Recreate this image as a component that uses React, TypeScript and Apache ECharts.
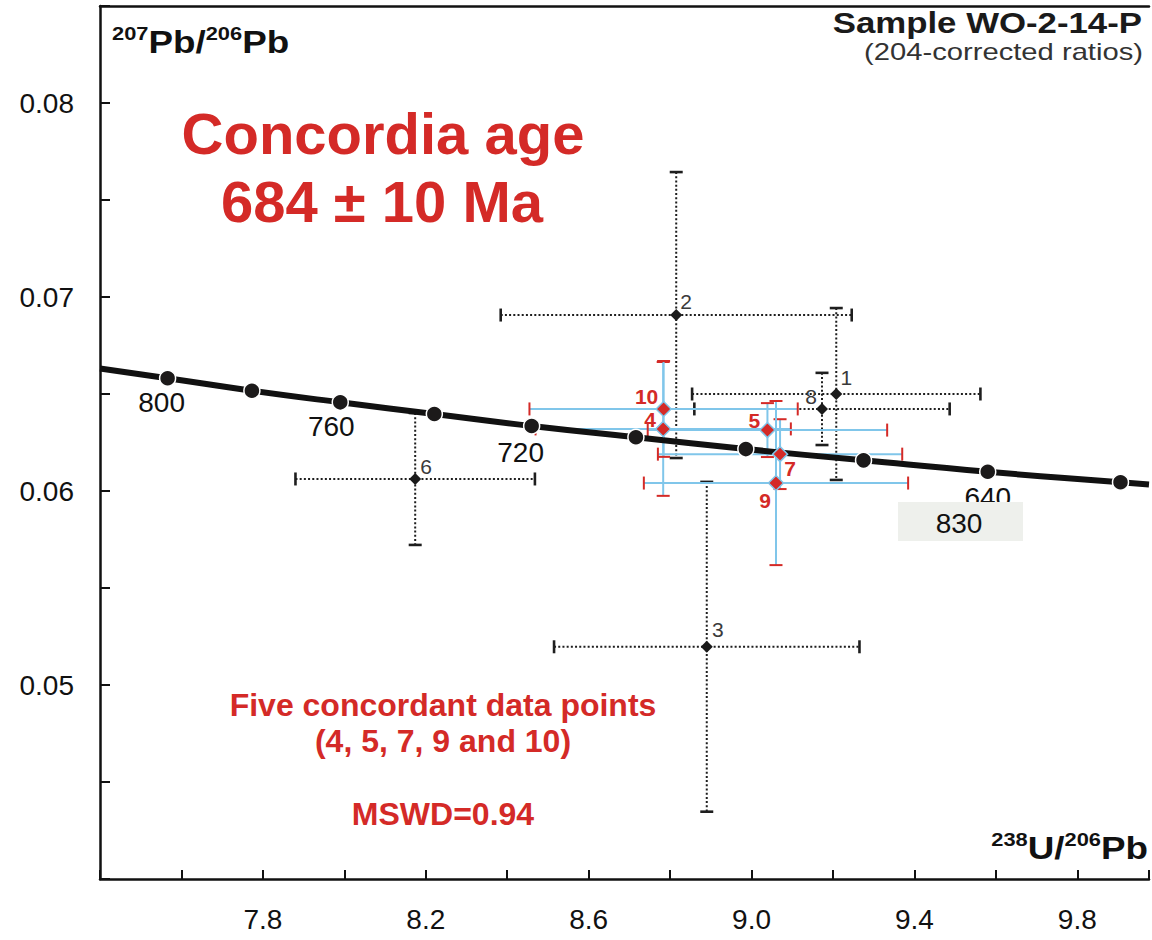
import React, { useEffect, useRef } from "react";
import * as echarts from "echarts";

// ---- Concordia curve (markers every 20 Ma) ----
const concordiaAges = [800, 780, 760, 740, 720, 700, 680, 660, 640, 620];
const concordiaX = [7.566, 7.773, 7.99, 8.221, 8.46, 8.716, 8.986, 9.275, 9.58, 9.906];
const concordiaY = [0.06581, 0.06517, 0.06457, 0.06397, 0.06335, 0.06277, 0.06216, 0.06158, 0.06099, 0.06045];
const labelledAges = [800, 760, 720, 640];
const curveStart = [7.4, 0.06631];
const curveEnd = [9.976, 0.06033];

// ---- Discordant analyses (black, dotted error bars) ----
const discordantIds = ["1", "2", "3", "6", "8"];
const discordantX = [9.208, 8.815, 8.89, 8.174, 9.173];
const discordantY = [0.065, 0.06907, 0.05197, 0.06062, 0.06423];
const discordantXErr = [0.354, 0.431, 0.375, 0.294, 0.3135];
const discordantYErr = [0.00443, 0.00737, 0.0085, 0.0034, 0.00186];

// ---- Concordant analyses (red, blue error bars) ----
const concordantIds = ["4", "5", "7", "9", "10"];
const concordantX = [8.783, 9.039, 9.07, 9.06, 8.784];
const concordantY = [0.0632, 0.06314, 0.0619, 0.06041, 0.06423];
const concordantXErr = [0.3135, 0.294, 0.3, 0.3245, 0.3294];
const concordantYErr = [0.00345, 0.00139, 0.0018, 0.00423, 0.00247];

// ---- Axes ----
const xTickLabels = ["7.8", "8.2", "8.6", "9.0", "9.4", "9.8"];
const yTickLabels = ["0.05", "0.06", "0.07", "0.08"];
const xMin = 7.4;
const xMax = 9.976;
const yMin = 0.04;
const yMax = 0.085;

// ---- Texts ----
const sampleTitle = "Sample WO-2-14-P";
const sampleSubtitle = "(204-corrected ratios)";
const ageTitle = "Concordia age";
const ageValue = "684 ± 10 Ma";
const noteLines = ["Five concordant data points", "(4, 5, 7, 9 and 10)", "MSWD=0.94"];
const boxLabel = "830";

// ---- Styles (label placements) ----
const idLabelOffset: Record<string, [number, number]> = {
  "1": [10, -17],
  "2": [10, -14],
  "3": [11, -17],
  "6": [11, -12],
  "8": [-11, -12],
  "4": [-13, -9],
  "5": [-13, -10],
  "7": [10, 14],
  "9": [-11, 17],
  "10": [-17, -12],
};
const ageLabelOffset: Record<number, [number, number]> = {
  800: [-6, 24],
  760: [-9, 24],
  720: [-11, 26],
  640: [0, 26],
};
const noteY = [705, 741, 814];

const RED = "#d42a27";
const BLUE = "#80c6ea";
const FONT = "'Liberation Sans', Arial, Helvetica, sans-serif";

function errorRenderer(kind: "black" | "blue") {
  return (_params: any, api: any) => {
    const x = api.value(0);
    const y = api.value(1);
    const ex = api.value(2);
    const ey = api.value(3);
    const L = api.coord([x - ex, y]);
    const R = api.coord([x + ex, y]);
    const T = api.coord([x, y + ey]);
    const B = api.coord([x, y - ey]);
    const bar = () =>
      kind === "black"
        ? { stroke: "#1e1e1e", lineWidth: 2, lineDash: [2, 2.2] }
        : { stroke: BLUE, lineWidth: 2 };
    const cap = () =>
      kind === "black" ? { stroke: "#1e1e1e", lineWidth: 2.6 } : { stroke: RED, lineWidth: 2 };
    const h = 6.5;
    return {
      type: "group",
      children: [
        { type: "line", shape: { x1: L[0], y1: L[1], x2: R[0], y2: R[1] }, style: bar() },
        { type: "line", shape: { x1: T[0], y1: T[1], x2: B[0], y2: B[1] }, style: bar() },
        { type: "line", shape: { x1: L[0], y1: L[1] - h, x2: L[0], y2: L[1] + h }, style: cap() },
        { type: "line", shape: { x1: R[0], y1: R[1] - h, x2: R[0], y2: R[1] + h }, style: cap() },
        { type: "line", shape: { x1: T[0] - h, y1: T[1], x2: T[0] + h, y2: T[1] }, style: cap() },
        { type: "line", shape: { x1: B[0] - h, y1: B[1], x2: B[0] + h, y2: B[1] }, style: cap() },
      ],
    };
  };
}

const richTitle = {
  s: { fontSize: 19, fontWeight: "bold", lineHeight: 19, verticalAlign: "top", fontFamily: FONT, fill: "#111" },
  m: { fontSize: 32, fontWeight: "bold", lineHeight: 34, verticalAlign: "bottom", fontFamily: FONT, fill: "#111" },
};

export default function App() {
  const ref = useRef<HTMLDivElement>(null);

  useEffect(() => {
    if (!ref.current) return;
    const chart = echarts.init(ref.current, null, { renderer: "svg" });

    const curveData = [
      curveStart,
      ...concordiaX.map((x, i) => [x, concordiaY[i]]),
      curveEnd,
    ];

    const dotData = concordiaAges.map((age, i) => {
      const off = ageLabelOffset[age];
      return {
        value: [concordiaX[i], concordiaY[i]],
        name: String(age),
        label: labelledAges.includes(age)
          ? {
              show: true,
              position: "inside",
              offset: off,
              formatter: String(age),
              color: "#111",
              fontSize: 28,
              fontFamily: FONT,
            }
          : { show: false },
      };
    });

    const discErr = discordantIds.map((_, i) => [
      discordantX[i],
      discordantY[i],
      discordantXErr[i],
      discordantYErr[i],
    ]);
    const concErr = concordantIds.map((_, i) => [
      concordantX[i],
      concordantY[i],
      concordantXErr[i],
      concordantYErr[i],
    ]);

    const discPts = discordantIds.map((id, i) => ({
      value: [discordantX[i], discordantY[i]],
      name: id,
      label: { offset: idLabelOffset[id] },
    }));
    const concPts = concordantIds.map((id, i) => ({
      value: [concordantX[i], concordantY[i]],
      name: id,
      label: { offset: idLabelOffset[id] },
    }));

    const option: any = {
      animation: false,
      backgroundColor: "#fff",
      textStyle: { fontFamily: FONT },
      grid: { left: 100, right: 0, top: 6, bottom: 61, containLabel: false },
      xAxis: [
        {
          type: "value",
          min: xMin,
          max: xMax,
          interval: 0.2,
          position: "bottom",
          axisLine: { show: true, onZero: false, lineStyle: { color: "#111", width: 2.5 } },
          axisTick: { show: true, inside: true, length: 9, lineStyle: { color: "#111", width: 2 } },
          splitLine: { show: false },
          axisLabel: {
            show: true,
            margin: 26,
            fontSize: 28,
            color: "#111",
            fontFamily: FONT,
            showMinLabel: true,
            showMaxLabel: true,
            formatter: (v: number) => {
              const r = Math.round(v * 10);
              if (Math.abs(v * 10 - r) > 1e-6) return "";
              const s = (r / 10).toFixed(1);
              return xTickLabels.includes(s) ? s : "";
            },
          },
        },
        {
          type: "value",
          min: xMin,
          max: xMax,
          position: "top",
          axisLine: { show: true, onZero: false, lineStyle: { color: "#111", width: 2.5 } },
          axisTick: { show: false },
          axisLabel: { show: false },
          splitLine: { show: false },
        },
      ],
      yAxis: {
        type: "value",
        min: yMin,
        max: yMax,
        interval: 0.005,
        axisLine: { show: true, onZero: false, lineStyle: { color: "#111", width: 2.5 } },
        axisTick: { show: true, inside: true, length: 10, lineStyle: { color: "#111", width: 2 } },
        splitLine: { show: false },
        axisLabel: {
          show: true,
          margin: 26,
          fontSize: 28,
          color: "#111",
          fontFamily: FONT,
          formatter: (v: number) => {
            const r = Math.round(v * 100);
            if (Math.abs(v * 100 - r) > 1e-6) return "";
            const s = (r / 100).toFixed(2);
            return yTickLabels.includes(s) ? s : "";
          },
        },
      },
      series: [
        {
          type: "custom",
          name: "discordant-err",
          z: 1,
          data: discErr,
          encode: { x: 0, y: 1 },
          renderItem: errorRenderer("black"),
          silent: true,
        },
        {
          type: "custom",
          name: "concordant-err",
          z: 2,
          data: concErr,
          encode: { x: 0, y: 1 },
          renderItem: errorRenderer("blue"),
          silent: true,
        },
        {
          type: "line",
          name: "concordia",
          z: 3,
          data: curveData,
          smooth: true,
          showSymbol: false,
          symbol: "none",
          lineStyle: { color: "#111", width: 6 },
          silent: true,
        },
        {
          type: "scatter",
          name: "ages",
          z: 4,
          data: dotData,
          symbol: "circle",
          symbolSize: 16,
          itemStyle: { color: "#1c1a1a", borderColor: "#fff", borderWidth: 1.5, opacity: 1 },
          silent: true,
        },
        {
          type: "scatter",
          name: "discordant",
          z: 5,
          data: discPts,
          symbol: "diamond",
          symbolSize: 12,
          itemStyle: { color: "#1a1a1a", opacity: 1 },
          label: {
            show: true,
            position: "inside",
            formatter: (p: any) => p.name,
            color: "#3a3a3a",
            fontSize: 21,
            fontFamily: FONT,
          },
          silent: true,
        },
        {
          type: "scatter",
          name: "concordant",
          z: 6,
          data: concPts,
          symbol: "diamond",
          symbolSize: 15,
          itemStyle: { color: RED, borderColor: BLUE, borderWidth: 1.5, opacity: 1 },
          label: {
            show: true,
            position: "inside",
            formatter: (p: any) => p.name,
            color: RED,
            fontSize: 21,
            fontWeight: "bold",
            fontFamily: FONT,
          },
          silent: true,
        },
      ],
      graphic: [
        // y-axis title 207Pb/206Pb
        {
          type: "text",
          x: 112,
          y: 24,
          scaleX: 1.15,
          z: 50,
          style: {
            text: "{s|207}{m|Pb/}{s|206}{m|Pb}",
            align: "left",
            verticalAlign: "top",
            textAlign: "left",
            textVerticalAlign: "top",
            fill: "#111",
            rich: richTitle,
          },
        },
        // x-axis title 238U/206Pb
        {
          type: "text",
          x: 1148,
          y: 830,
          scaleX: 1.15,
          z: 50,
          style: {
            text: "{s|238}{m|U/}{s|206}{m|Pb}",
            align: "right",
            verticalAlign: "top",
            textAlign: "right",
            textVerticalAlign: "top",
            fill: "#111",
            rich: richTitle,
          },
        },
        {
          type: "text",
          x: 1142,
          y: 23,
          scaleX: 1.2,
          z: 50,
          style: {
            text: sampleTitle,
            align: "right",
            verticalAlign: "middle",
            textAlign: "right",
            textVerticalAlign: "middle",
            font: `bold 29px ${FONT}`,
            fill: "#1a1a1a",
          },
        },
        {
          type: "text",
          x: 1143,
          y: 52,
          scaleX: 1.27,
          z: 50,
          style: {
            text: sampleSubtitle,
            align: "right",
            verticalAlign: "middle",
            textAlign: "right",
            textVerticalAlign: "middle",
            font: `23px ${FONT}`,
            fill: "#333",
          },
        },
        {
          type: "text",
          x: 383,
          y: 133,
          z: 50,
          style: {
            text: ageTitle,
            align: "center",
            verticalAlign: "middle",
            textAlign: "center",
            textVerticalAlign: "middle",
            font: `bold 58px ${FONT}`,
            fill: RED,
          },
        },
        {
          type: "text",
          x: 382,
          y: 201,
          z: 50,
          style: {
            text: ageValue,
            align: "center",
            verticalAlign: "middle",
            textAlign: "center",
            textVerticalAlign: "middle",
            font: `bold 58px ${FONT}`,
            fill: RED,
          },
        },
        ...noteLines.map((t, i) => ({
          type: "text",
          x: 443,
          y: noteY[i],
          z: 50,
          style: {
            text: t,
            align: "center",
            verticalAlign: "middle",
            textAlign: "center",
            textVerticalAlign: "middle",
            font: `bold 32px ${FONT}`,
            fill: RED,
          },
        })),
        {
          type: "rect",
          z: 100,
          shape: { x: 898, y: 502, width: 125, height: 39 },
          style: { fill: "#eef0ec" },
        },
        {
          type: "text",
          x: 959,
          y: 523,
          z: 101,
          style: {
            text: boxLabel,
            align: "center",
            verticalAlign: "middle",
            textAlign: "center",
            textVerticalAlign: "middle",
            font: `28px ${FONT}`,
            fill: "#111",
          },
        },
      ],
    };

    chart.setOption(option);
    return () => chart.dispose();
  }, []);

  return (
    <div
      ref={ref}
      style={{ position: "fixed", left: 0, top: 0, width: 1152, height: 940, background: "#fff" }}
    />
  );
}
